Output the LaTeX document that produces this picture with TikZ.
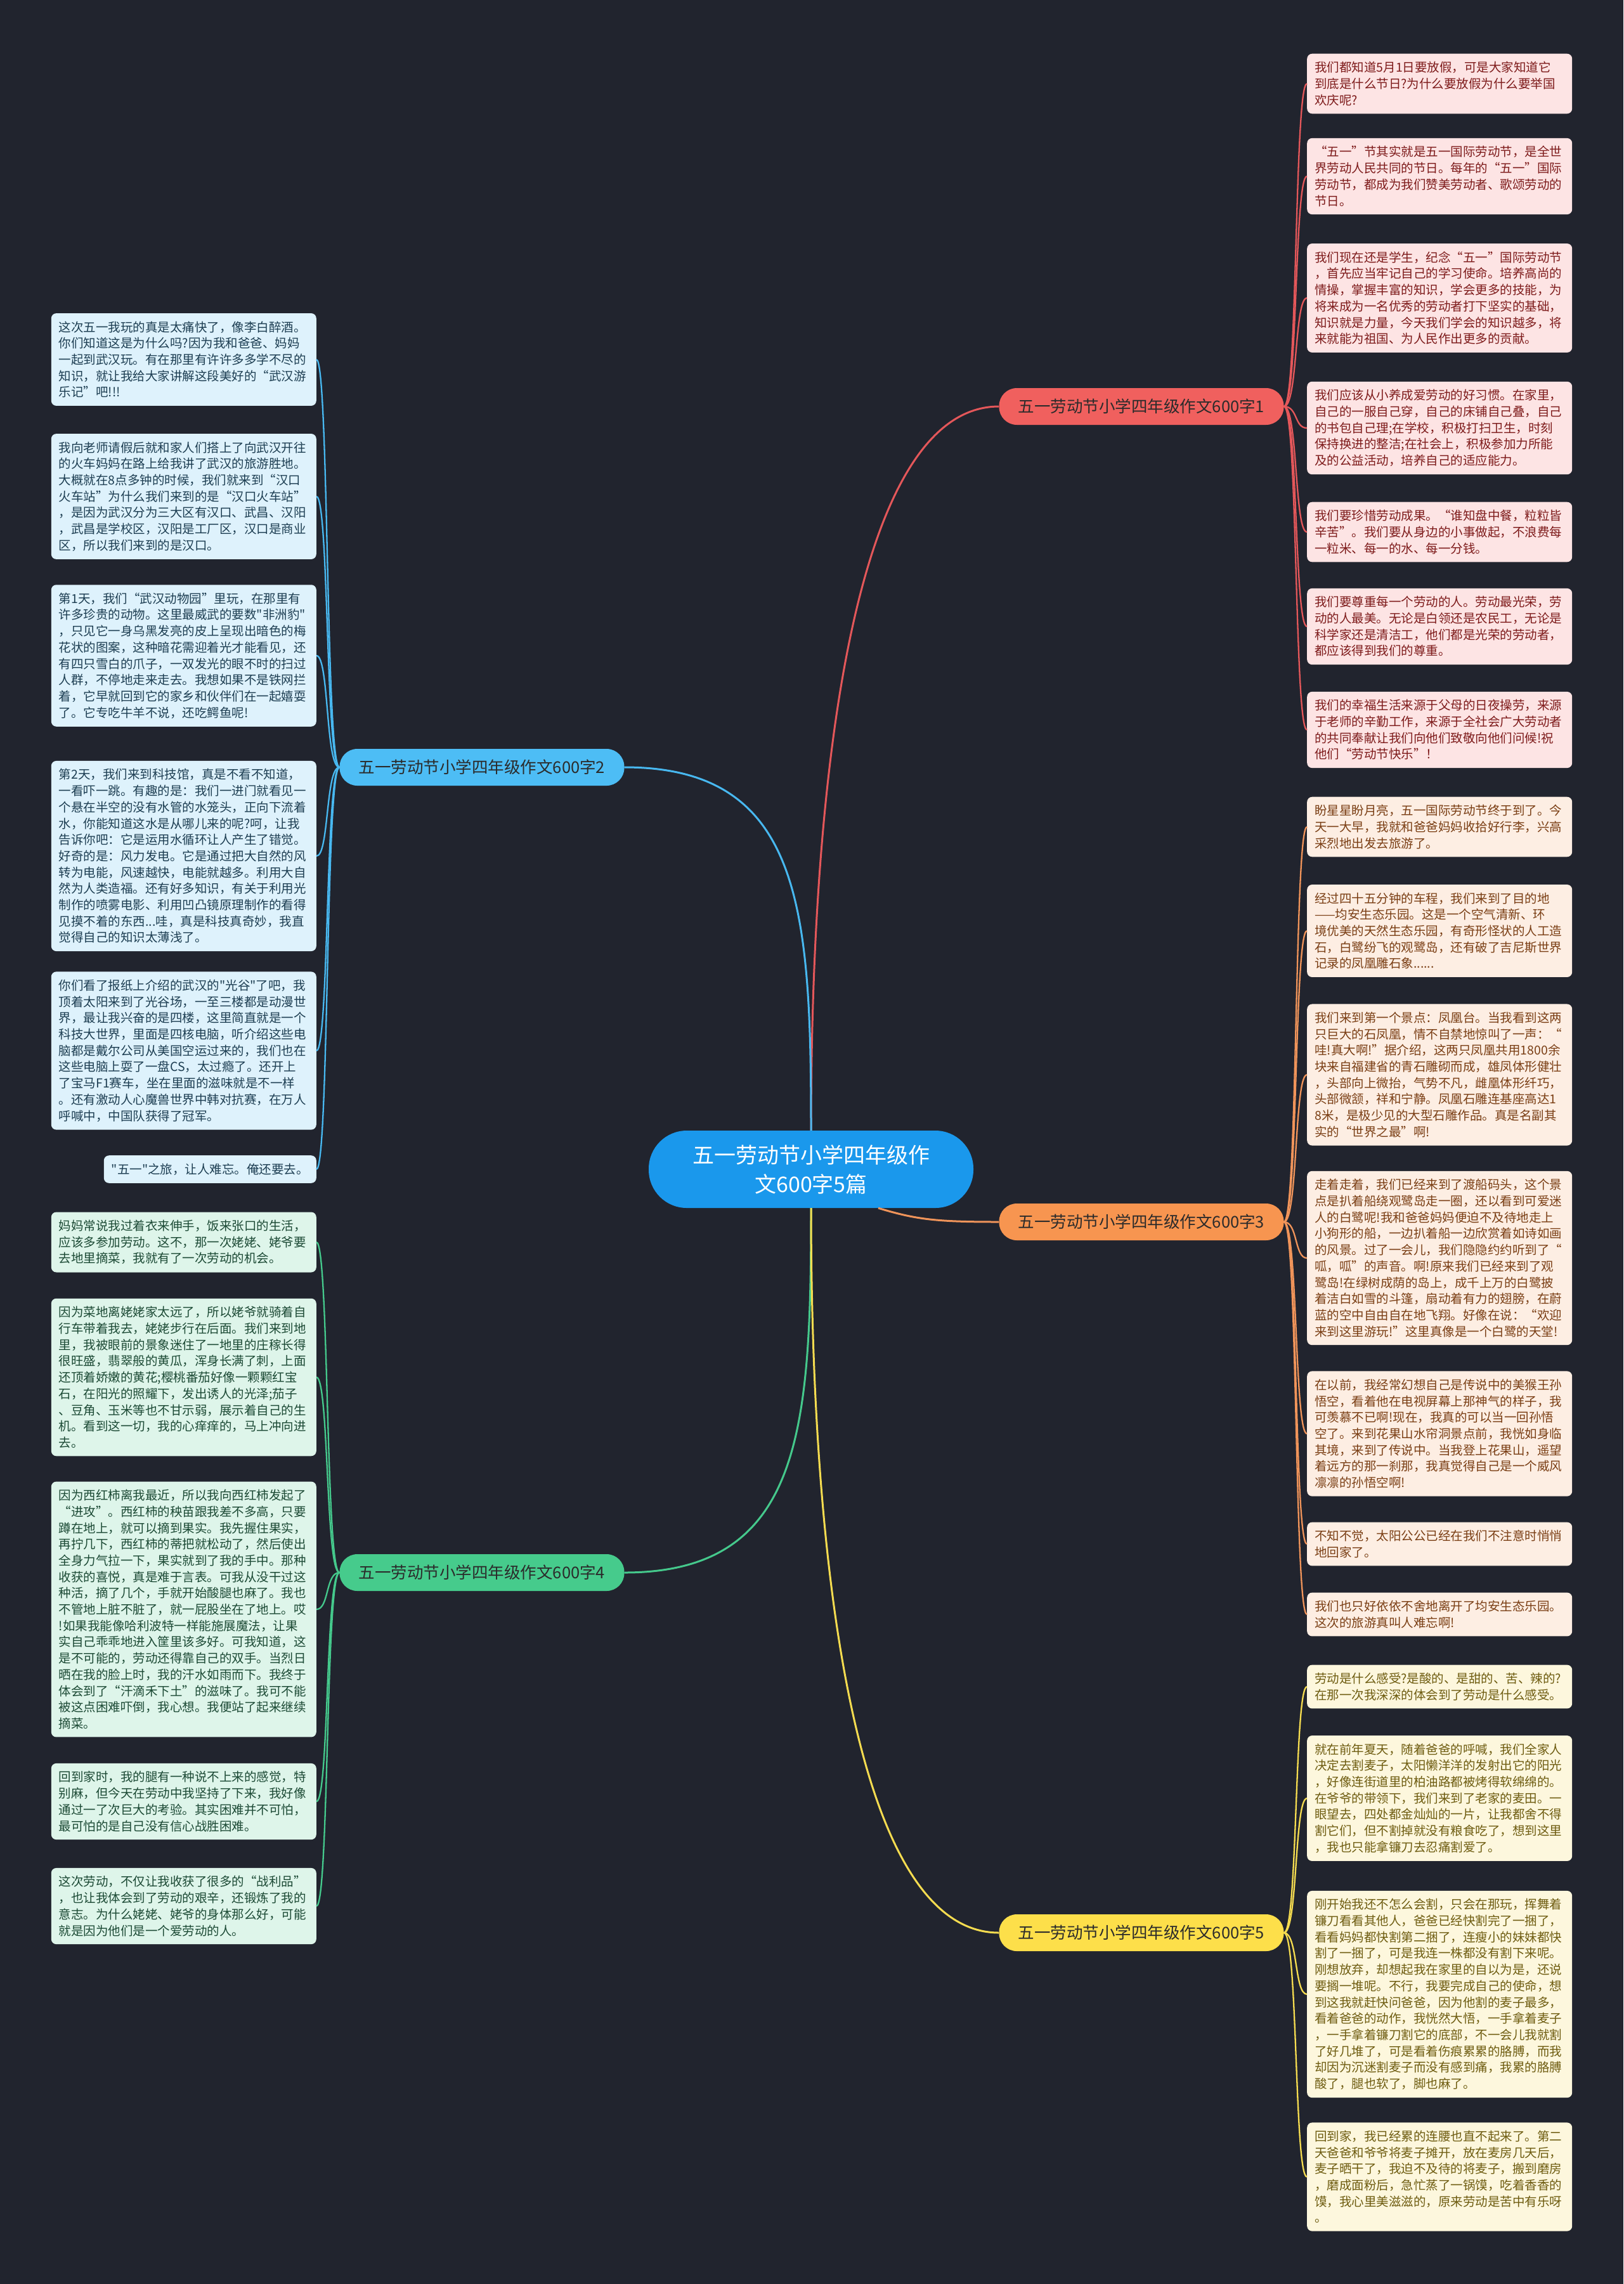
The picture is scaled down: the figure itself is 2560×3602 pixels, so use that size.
\documentclass[tikz,border=0pt]{standalone}
\usepackage{fontspec}
\setmainfont{Noto Sans CJK SC}[Ligatures=TeXOff]
\definecolor{bg}{HTML}{21242E}
\definecolor{cblue}{HTML}{1A98EC}
\definecolor{b1fill}{HTML}{F0605E}
\definecolor{b2fill}{HTML}{4DBDF5}
\definecolor{b3fill}{HTML}{F79550}
\definecolor{b4fill}{HTML}{46CB8C}
\definecolor{b5fill}{HTML}{FDDF4A}
\definecolor{line1}{HTML}{E4575A}
\definecolor{line2}{HTML}{48B8F0}
\definecolor{line3}{HTML}{F0945A}
\definecolor{line4}{HTML}{45C98C}
\definecolor{line5}{HTML}{F5DC50}
\definecolor{r1fill}{HTML}{FDE4E4}
\definecolor{r3fill}{HTML}{FDEEE3}
\definecolor{r5fill}{HTML}{FDF7DD}
\definecolor{l2fill}{HTML}{DEF2FC}
\definecolor{l4fill}{HTML}{DEF5EA}
\definecolor{r1text}{HTML}{7E1B1B}
\definecolor{r3text}{HTML}{7A3E14}
\definecolor{r5text}{HTML}{6E5C10}
\definecolor{l2text}{HTML}{1D3E52}
\definecolor{l4text}{HTML}{1C4A35}
\definecolor{btext}{HTML}{2B2B2B}
\newcommand\leaffont{\fontsize{19.5}{25.7}\selectfont}
\tikzset{
  leafbase/.style={rounded corners=8pt, inner xsep=12pt, inner ysep=12.5pt, align=left, font=\leaffont},
  leaf/.style={leafbase, text width=394pt},
  rone/.style={leaf, anchor=west, fill=r1fill, text=r1text},
  rthree/.style={leaf, anchor=west, fill=r3fill, text=r3text},
  rfive/.style={leaf, anchor=west, fill=r5fill, text=r5text},
  ltwo/.style={leaf, anchor=east, fill=l2fill, text=l2text},
  lfour/.style={leaf, anchor=east, fill=l4fill, text=l4text},
  central/.style={fill=cblue, text=white, align=center, minimum width=512pt, minimum height=122pt, rounded corners=60pt, font=\fontsize{34}{46}\selectfont},
  branch/.style={minimum width=449pt, minimum height=58pt, rounded corners=28pt, text=btext, font=\fontsize{25.5}{30}\selectfont},
  mainline/.style={line width=3pt},
  leafline/.style={line width=2.3pt}
}
\begin{document}
\begin{tikzpicture}[x=1pt,y=-1pt]
\useasboundingbox (0,0) rectangle (2560,3602);
\fill[bg] (0,0) rectangle (2560,3602);

% central and branches
\node[central] (c) at (1279,1844) {五一劳动节小学四年级作\\文600字5篇};
\node[branch, fill=b1fill] (b1) at (1800,641) {五一劳动节小学四年级作文600字1};
\node[branch, fill=b2fill] (b2) at (760,1210) {五一劳动节小学四年级作文600字2};
\node[branch, fill=b3fill] (b3) at (1800,1927) {五一劳动节小学四年级作文600字3};
\node[branch, fill=b4fill] (b4) at (760,2480) {五一劳动节小学四年级作文600字4};
\node[branch, fill=b5fill] (b5) at (1800,3048) {五一劳动节小学四年级作文600字5};

% right column, branch 1
\node[rone] (r11) at (2061,132) {我们都知道5月1日要放假，可是大家知道它\\到底是什么节日?为什么要放假为什么要举国\\欢庆呢?};
\node[rone] (r12) at (2061,278) {“五一”节其实就是五一国际劳动节，是全世\\界劳动人民共同的节日。每年的“五一”国际\\劳动节，都成为我们赞美劳动者、歌颂劳动的\\节日。};
\node[rone] (r13) at (2061,470) {我们现在还是学生，纪念“五一”国际劳动节\\，首先应当牢记自己的学习使命。培养高尚的\\情操，掌握丰富的知识，学会更多的技能，为\\将来成为一名优秀的劳动者打下坚实的基础，\\知识就是力量，今天我们学会的知识越多，将\\来就能为祖国、为人民作出更多的贡献。};
\node[rone] (r14) at (2061,675) {我们应该从小养成爱劳动的好习惯。在家里，\\自己的一服自己穿，自己的床铺自己叠，自己\\的书包自己理;在学校，积极打扫卫生，时刻\\保持换进的整洁;在社会上，积极参加力所能\\及的公益活动，培养自己的适应能力。};
\node[rone] (r15) at (2061,839) {我们要珍惜劳动成果。“谁知盘中餐，粒粒皆\\辛苦”。我们要从身边的小事做起，不浪费每\\一粒米、每一的水、每一分钱。};
\node[rone] (r16) at (2061,988) {我们要尊重每一个劳动的人。劳动最光荣，劳\\动的人最美。无论是白领还是农民工，无论是\\科学家还是清洁工，他们都是光荣的劳动者，\\都应该得到我们的尊重。};
\node[rone] (r17) at (2061,1151) {我们的幸福生活来源于父母的日夜操劳，来源\\于老师的辛勤工作，来源于全社会广大劳动者\\的共同奉献让我们向他们致敬向他们问候!祝\\他们“劳动节快乐”！};

% right column, branch 3
\node[rthree] (r31) at (2061,1304) {盼星星盼月亮，五一国际劳动节终于到了。今\\天一大早，我就和爸爸妈妈收拾好行李，兴高\\采烈地出发去旅游了。};
\node[rthree] (r32) at (2061,1468) {经过四十五分钟的车程，我们来到了目的地\\——均安生态乐园。这是一个空气清新、环\\境优美的天然生态乐园，有奇形怪状的人工造\\石，白鹭纷飞的观鹭岛，还有破了吉尼斯世界\\记录的凤凰雕石象......};
\node[rthree] (r33) at (2061,1695) {我们来到第一个景点：凤凰台。当我看到这两\\只巨大的石凤凰，情不自禁地惊叫了一声：“\\哇!真大啊!”据介绍，这两只凤凰共用1800余\\块来自福建省的青石雕砌而成，雄凤体形健壮\\，头部向上微抬，气势不凡，雌凰体形纤巧，\\头部微颔，祥和宁静。凤凰石雕连基座高达1\\8米，是极少见的大型石雕作品。真是名副其\\实的“世界之最”啊!};
\node[rthree] (r34) at (2061,1984) {走着走着，我们已经来到了渡船码头，这个景\\点是扒着船绕观鹭岛走一圈，还以看到可爱迷\\人的白鹭呢!我和爸爸妈妈便迫不及待地走上\\小狗形的船，一边扒着船一边欣赏着如诗如画\\的风景。过了一会儿，我们隐隐约约听到了“\\呱，呱”的声音。啊!原来我们已经来到了观\\鹭岛!在绿树成荫的岛上，成千上万的白鹭披\\着洁白如雪的斗篷，扇动着有力的翅膀，在蔚\\蓝的空中自由自在地飞翔。好像在说：“欢迎\\来到这里游玩!”这里真像是一个白鹭的天堂!};
\node[rthree] (r35) at (2061,2261) {在以前，我经常幻想自己是传说中的美猴王孙\\悟空，看着他在电视屏幕上那神气的样子，我\\可羡慕不已啊!现在，我真的可以当一回孙悟\\空了。来到花果山水帘洞景点前，我恍如身临\\其境，来到了传说中。当我登上花果山，遥望\\着远方的那一刹那，我真觉得自己是一个威风\\凛凛的孙悟空啊!};
\node[rthree] (r36) at (2061,2435) {不知不觉，太阳公公已经在我们不注意时悄悄\\地回家了。};
\node[rthree] (r37) at (2061,2546) {我们也只好依依不舍地离开了均安生态乐园。\\这次的旅游真叫人难忘啊!};

% right column, branch 5
\node[rfive] (r51) at (2061,2660) {劳动是什么感受?是酸的、是甜的、苦、辣的?\\在那一次我深深的体会到了劳动是什么感受。};
\node[rfive] (r52) at (2061,2836) {就在前年夏天，随着爸爸的呼喊，我们全家人\\决定去割麦子，太阳懒洋洋的发射出它的阳光\\，好像连街道里的柏油路都被烤得软绵绵的。\\在爷爷的带领下，我们来到了老家的麦田。一\\眼望去，四处都金灿灿的一片，让我都舍不得\\割它们，但不割掉就没有粮食吃了，想到这里\\，我也只能拿镰刀去忍痛割爱了。};
\node[rfive] (r53) at (2061,3145) {刚开始我还不怎么会割，只会在那玩，挥舞着\\镰刀看看其他人，爸爸已经快割完了一捆了，\\看看妈妈都快割第二捆了，连瘦小的妹妹都快\\割了一捆了，可是我连一株都没有割下来呢。\\刚想放弃，却想起我在家里的自以为是，还说\\要搁一堆呢。不行，我要完成自己的使命，想\\到这我就赶快问爸爸，因为他割的麦子最多，\\看着爸爸的动作，我恍然大悟，一手拿着麦子\\，一手拿着镰刀割它的底部，不一会儿我就割\\了好几堆了，可是看着伤痕累累的胳膊，而我\\却因为沉迷割麦子而没有感到痛，我累的胳膊\\酸了，腿也软了，脚也麻了。};
\node[rfive] (r54) at (2061,3433) {回到家，我已经累的连腰也直不起来了。第二\\天爸爸和爷爷将麦子摊开，放在麦房几天后，\\麦子晒干了，我迫不及待的将麦子，搬到磨房\\，磨成面粉后，急忙蒸了一锅馍，吃着香香的\\馍，我心里美滋滋的，原来劳动是苦中有乐呀\\。};

% left column, branch 2
\node[ltwo] (l21) at (499,567) {这次五一我玩的真是太痛快了，像李白醉酒。\\你们知道这是为什么吗?因为我和爸爸、妈妈\\一起到武汉玩。有在那里有许许多多学不尽的\\知识，就让我给大家讲解这段美好的“武汉游\\乐记”吧!!!};
\node[ltwo] (l22) at (499,783) {我向老师请假后就和家人们搭上了向武汉开往\\的火车妈妈在路上给我讲了武汉的旅游胜地。\\大概就在8点多钟的时候，我们就来到“汉口\\火车站”为什么我们来到的是“汉口火车站”\\，是因为武汉分为三大区有汉口、武昌、汉阳\\，武昌是学校区，汉阳是工厂区，汉口是商业\\区，所以我们来到的是汉口。};
\node[ltwo] (l23) at (499,1034) {第1天，我们“武汉动物园”里玩，在那里有\\许多珍贵的动物。这里最威武的要数"非洲豹"\\，只见它一身乌黑发亮的皮上呈现出暗色的梅\\花状的图案，这种暗花需迎着光才能看见，还\\有四只雪白的爪子，一双发光的眼不时的扫过\\人群，不停地走来走去。我想如果不是铁网拦\\着，它早就回到它的家乡和伙伴们在一起嬉耍\\了。它专吃牛羊不说，还吃鳄鱼呢!};
\node[ltwo] (l24) at (499,1350) {第2天，我们来到科技馆，真是不看不知道，\\一看吓一跳。有趣的是：我们一进门就看见一\\个悬在半空的没有水管的水笼头，正向下流着\\水，你能知道这水是从哪儿来的呢?呵，让我\\告诉你吧：它是运用水循环让人产生了错觉。\\好奇的是：风力发电。它是通过把大自然的风\\转为电能，风速越快，电能就越多。利用大自\\然为人类造福。还有好多知识，有关于利用光\\制作的喷雾电影、利用凹凸镜原理制作的看得\\见摸不着的东西...哇，真是科技真奇妙，我直\\觉得自己的知识太薄浅了。};
\node[ltwo] (l25) at (499,1657) {你们看了报纸上介绍的武汉的"光谷"了吧，我\\顶着太阳来到了光谷场，一至三楼都是动漫世\\界，最让我兴奋的是四楼，这里简直就是一个\\科技大世界，里面是四核电脑，听介绍这些电\\脑都是戴尔公司从美国空运过来的，我们也在\\这些电脑上耍了一盘CS，太过瘾了。还开上\\了宝马F1赛车，坐在里面的滋味就是不一样\\。还有激动人心魔兽世界中韩对抗赛，在万人\\呼喊中，中国队获得了冠军。};
\node[leafbase, anchor=east, fill=l2fill, text=l2text] (l26) at (499,1844) {"五一"之旅，让人难忘。俺还要去。};

% left column, branch 4
\node[lfour] (l41) at (499,1959) {妈妈常说我过着衣来伸手，饭来张口的生活，\\应该多参加劳动。这不，那一次姥姥、姥爷要\\去地里摘菜，我就有了一次劳动的机会。};
\node[lfour] (l42) at (499,2172) {因为菜地离姥姥家太远了，所以姥爷就骑着自\\行车带着我去，姥姥步行在后面。我们来到地\\里，我被眼前的景象迷住了一地里的庄稼长得\\很旺盛，翡翠般的黄瓜，浑身长满了刺，上面\\还顶着娇嫩的黄花;樱桃番茄好像一颗颗红宝\\石，在阳光的照耀下，发出诱人的光泽;茄子\\、豆角、玉米等也不甘示弱，展示着自己的生\\机。看到这一切，我的心痒痒的，马上冲向进\\去。};
\node[lfour] (l43) at (499,2538) {因为西红柿离我最近，所以我向西红柿发起了\\“进攻”。西红柿的秧苗跟我差不多高，只要\\蹲在地上，就可以摘到果实。我先握住果实，\\再拧几下，西红柿的蒂把就松动了，然后使出\\全身力气拉一下，果实就到了我的手中。那种\\收获的喜悦，真是难于言表。可我从没干过这\\种活，摘了几个，手就开始酸腿也麻了。我也\\不管地上脏不脏了，就一屁股坐在了地上。哎\\!如果我能像哈利波特一样能施展魔法，让果\\实自己乖乖地进入筐里该多好。可我知道，这\\是不可能的，劳动还得靠自己的双手。当烈日\\晒在我的脸上时，我的汗水如雨而下。我终于\\体会到了“汗滴禾下土”的滋味了。我可不能\\被这点困难吓倒，我心想。我便站了起来继续\\摘菜。};
\node[lfour] (l44) at (499,2841) {回到家时，我的腿有一种说不上来的感觉，特\\别麻，但今天在劳动中我坚持了下来，我好像\\通过一了次巨大的考验。其实困难并不可怕，\\最可怕的是自己没有信心战胜困难。};
\node[lfour] (l45) at (499,3006) {这次劳动，不仅让我收获了很多的“战利品”\\，也让我体会到了劳动的艰辛，还锻炼了我的\\意志。为什么姥姥、姥爷的身体那么好，可能\\就是因为他们是一个爱劳动的人。};

% central to branch connectors
\draw[mainline, line1] (c.north) .. controls +(0,-600) and +(-220,0) .. (b1.west);
\draw[mainline, line2] (c.north) .. controls +(0,-350) and +(280,0) .. (b2.east);
\draw[mainline, line3] (c.-30) .. controls +(60,18) and +(-100,0) .. (b3.west);
\draw[mainline, line4] (c.south) .. controls +(0,350) and +(280,0) .. (b4.east);
\draw[mainline, line5] (c.south) .. controls +(0,600) and +(-220,0) .. (b5.west);

% branch to leaf connectors
\foreach \l in {r11,r12,r13,r14,r15,r16,r17}
  \draw[leafline, line1] (b1.east) .. controls +(22,0) and +(-20,0) .. (\l.west);
\foreach \l in {r31,r32,r33,r34,r35,r36,r37}
  \draw[leafline, line3] (b3.east) .. controls +(22,0) and +(-20,0) .. (\l.west);
\foreach \l in {r51,r52,r53,r54}
  \draw[leafline, line5] (b5.east) .. controls +(22,0) and +(-20,0) .. (\l.west);
\foreach \l in {l21,l22,l23,l24,l25,l26}
  \draw[leafline, line2] (b2.west) .. controls +(-22,0) and +(20,0) .. (\l.east);
\foreach \l in {l41,l42,l43,l44,l45}
  \draw[leafline, line4] (b4.west) .. controls +(-22,0) and +(20,0) .. (\l.east);
\end{tikzpicture}
\end{document}
